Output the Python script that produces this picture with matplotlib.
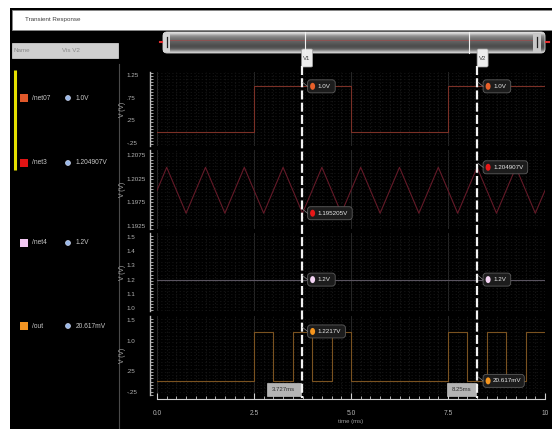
import matplotlib
matplotlib.use('Agg')
import matplotlib.pyplot as plt
from matplotlib.patches import Rectangle, FancyBboxPatch, Ellipse
from matplotlib.ticker import MultipleLocator, FixedLocator
import numpy as np

plt.rcParams['font.family'] = ['Liberation Sans', 'DejaVu Sans']
plt.rcParams['lines.scale_dashes'] = False

W, H = 552, 429

# ---------------- data ----------------
signal_names = ['/net07', '/net3', '/net4', '/out']
signal_vis_v2 = ['1.0V', '1.204907V', '1.2V', '20.617mV']

net07_t = [0.0, 2.5, 5.0, 7.5, 10.0]
net07_v = [0.0, 1.0, 0.0, 1.0, 1.0]

net3_t = [0.0, 0.25, 0.75, 1.25, 1.75, 2.25, 2.75, 3.25, 3.75, 4.25, 4.75,
          5.25, 5.75, 6.25, 6.75, 7.25, 7.75, 8.25, 8.75, 9.25, 9.75, 10.0]
net3_v = [1.2, 1.2049, 1.1952, 1.2049, 1.1952, 1.2049, 1.1952, 1.2049, 1.1952,
          1.2049, 1.1952, 1.2049, 1.1952, 1.2049, 1.1952, 1.2049, 1.1952,
          1.2049, 1.1952, 1.2049, 1.1952, 1.2]

net4_t = [0.0, 10.0]
net4_v = [1.2, 1.2]

out_t = [0.0, 2.5, 3.0, 3.5, 4.0, 4.5, 5.0, 7.5, 8.0, 8.5, 9.0, 9.5, 10.0]
out_v = [0.02, 1.22, 0.02, 1.22, 0.02, 1.22, 0.02, 1.22, 0.02, 1.22, 0.02, 1.22, 1.22]

cursor_t = [3.727, 8.25]
cursor_names = ['V1', 'V2']
cursor_readouts = ['3.727ms', '8.25ms']
v1_labels = ['1.0V', '1.195205V', '1.2V', '1.2217V']
v1_values = [1.0, 1.195205, 1.2, 1.2217]
v2_labels = ['1.0V', '1.204907V', '1.2V', '20.617mV']
v2_values = [1.0, 1.204907, 1.2, 0.020617]

x_ticks = [0.0, 2.5, 5.0, 7.5, 10.0]
x_ticklabels = ['0.0', '2.5', '5.0', '7.5', '10']
ytick_vals = [[1.25, 0.75, 0.25, -0.25],
              [1.2075, 1.2025, 1.1975, 1.1925],
              [1.5, 1.4, 1.3, 1.2, 1.1, 1.0],
              [1.5, 1.0, 0.25, -0.25]]
ytick_labels = [['1.25', '.75', '.25', '-.25'],
                ['1.2075', '1.2025', '1.1975', '1.1925'],
                ['1.5', '1.4', '1.3', '1.2', '1.1', '1.0'],
                ['1.5', '1.0', '.25', '-.25']]

# ---------------- styles ----------------
trace_colors = ['#7a3026', '#641a28', '#5a5460', '#7a5220']
icon_colors = ['#e0582a', '#e01414', '#f2c8f2', '#f29422']
dot_colors = ['#e8602a', '#e81818', '#f4d4f4', '#f5951e']
strip_px = [(72, 146), (150, 229), (233, 311), (316, 395)]
strip_ylim = [(-0.316, 1.316), (1.19187, 1.20856), (0.979, 1.528), (-0.323, 1.597)]
row_y = [98, 163, 243, 326]
PX0, PX1 = 157, 545


def rect(x0, y0, x1, y1):
    return [x0 / W, 1 - y1 / H, (x1 - x0) / W, (y1 - y0) / H]


fig = plt.figure(figsize=(W / 100, H / 100), dpi=100, facecolor='white')

# background layer
bg = fig.add_axes([0, 0, 1, 1], zorder=0)
bg.set_xlim(0, W)
bg.set_ylim(H, 0)
bg.axis('off')
bg.add_patch(Rectangle((10, 8), W - 10, H - 8, fc='black', ec='none'))
bg.add_patch(Rectangle((12, 10), W - 12, 20, fc='white', ec='#888888', lw=0.6))
bg.text(25, 20, 'Transient Response', fontsize=4.5, color='#404040', va='center')
# left panel header
bg.add_patch(Rectangle((12, 43), 106, 15, fc='#cfcfcf', ec='#e0e0e0', lw=0.5))
bg.text(14, 50.5, 'Name', fontsize=4.5, color='#8a8a8a', va='center')
bg.text(62, 50.5, 'Vis V2', fontsize=4.5, color='#8a8a8a', va='center')
bg.plot([118.5, 118.5], [64, H], color='#4a4a4a', lw=0.8)
bg.plot([14.5, 14.5], [70, 170], color='#e6e000', lw=2.2, solid_capstyle='butt')
for i in range(4):
    y = row_y[i]
    bg.add_patch(Rectangle((20, y - 4), 8, 8, fc=icon_colors[i], ec='none'))
    bg.text(32, y, signal_names[i], fontsize=4.8, color='#c8c8c8', va='center')
    bg.add_patch(Ellipse((68, y), 5, 5, fc='#9ab8e8', ec='#e0e8ff', lw=0.4))
    bg.text(76, y, signal_vis_v2[i], fontsize=4.8, color='#c8c8c8', va='center')

# scrollbar
grad = np.array([[0.9], [0.62], [0.5], [0.44], [0.38], [0.34], [0.3], [0.32], [0.45], [0.8]])
sb = FancyBboxPatch((163, 32), 382, 21, boxstyle='round,pad=0,rounding_size=4',
                    fc='none', ec='#d8d8d8', lw=0.6, zorder=3)
bg.add_patch(sb)
im = bg.imshow(grad, cmap='gray', vmin=0, vmax=1, extent=(163, 545, 53, 32),
               aspect='auto', interpolation='bicubic', zorder=2)
im.set_clip_path(sb)
bg.set_xlim(0, W)
bg.set_ylim(H, 0)
bg.plot([170, 533], [40, 40], color='#b04040', lw=0.6, alpha=0.6, zorder=4)
bg.add_patch(Rectangle((163, 33), 7, 19, fc='#d4d4d4', ec='none', zorder=4))
bg.add_patch(Rectangle((533, 33), 8, 19, fc='#c8c8c8', ec='none', zorder=4))
bg.plot([167, 167], [37, 47], color='#202020', lw=0.9, zorder=5)
bg.plot([537, 537], [37, 47], color='#202020', lw=0.9, zorder=5)
bg.plot([160, 162], [42, 42], color='#e03030', lw=1.5, zorder=5)
bg.plot([546, 549], [42, 42], color='#e03030', lw=1.5, zorder=5)

# ---------------- strips ----------------
series = [(net07_t, net07_v), (net3_t, net3_v), (net4_t, net4_v), (out_t, out_v)]
axes = []
for i in range(4):
    y0, y1 = strip_px[i]
    ax = fig.add_axes(rect(PX0, y0, PX1, y1), zorder=1)
    ax.set_facecolor('black')
    t, v = series[i]
    ax.plot(t, v, color=trace_colors[i], lw=0.8,
            drawstyle='steps-post' if i in (0, 3) else 'default')
    ax.set_xlim(0, 10)
    ax.set_ylim(*strip_ylim[i])
    for s in ['top', 'right', 'bottom']:
        ax.spines[s].set_visible(False)
    ax.spines['left'].set_position(('outward', 5))
    ax.spines['left'].set_color('#bdbdbd')
    ax.spines['left'].set_linewidth(1.0)
    ax.yaxis.set_major_locator(FixedLocator(ytick_vals[i]))
    ax.set_yticklabels(ytick_labels[i])
    span = strip_ylim[i][1] - strip_ylim[i][0]
    ax.yaxis.set_minor_locator(MultipleLocator(span / 24))
    ax.tick_params(axis='y', which='major', length=0, pad=17, labelsize=4.5, labelcolor='#b4b4b4')
    ax.tick_params(axis='y', which='minor', direction='in', length=2, width=0.6, color='#bdbdbd')
    for lab in ax.get_yticklabels():
        lab.set_ha('left')
    ax.xaxis.set_major_locator(FixedLocator(x_ticks))
    ax.xaxis.set_minor_locator(MultipleLocator(0.25))
    ax.grid(which='minor', axis='x', color='#1d1d1d', lw=0.5, ls=':')
    ax.grid(which='major', axis='x', color='#2e2e2e', lw=0.6)
    ax.yaxis.grid(True, which='minor', color='#191919', lw=0.5, ls=':')
    ax.set_axisbelow(True)
    ax.set_ylabel('V (V)', fontsize=4.8, color='#a8a8a8')
    ax.yaxis.set_label_coords(-0.08, 0.5)
    if i < 3:
        ax.tick_params(axis='x', which='both', length=0, labelbottom=False)
    else:
        ax.spines['bottom'].set_visible(True)
        ax.spines['bottom'].set_position(('outward', 3))
        ax.spines['bottom'].set_color('#d0d0d0')
        ax.set_xticklabels(x_ticklabels)
        ax.tick_params(axis='x', which='major', direction='in', length=4, width=0.8,
                       color='#d0d0d0', labelsize=4.8, labelcolor='#b4b4b4', pad=8)
        ax.tick_params(axis='x', which='minor', direction='in', length=2.5, width=0.6,
                       color='#d0d0d0')
        ax.set_xlabel('time (ms)', fontsize=4.3, color='#a0a0a0', labelpad=1)
    axes.append(ax)

# ---------------- overlay (cursors, readouts) ----------------
ov = fig.add_axes([0, 0, 1, 1], zorder=5)
ov.set_xlim(0, W)
ov.set_ylim(H, 0)
ov.axis('off')
ov.patch.set_alpha(0)


def to_px(ax, t, v):
    dx, dy = ax.transData.transform((t, v))
    return dx, H - dy


for ci in range(2):
    cx, _ = to_px(axes[0], cursor_t[ci], 0)
    # scrollbar mark
    sx = 170 + (533 - 170) * cursor_t[ci] / 10
    ov.plot([sx, sx], [32, 53], color='#f0f0f0', lw=0.8)
    # dashed cursor line
    ov.plot([cx, cx], [66, 398], color='#f2f2f2', lw=1.6, dashes=(6.5, 2.3))
    # V tag
    ov.add_patch(FancyBboxPatch((cx, 49), 11, 18, boxstyle='round,pad=0,rounding_size=1.5',
                                fc='#ececec', ec='#a0a0a0', lw=0.5))
    ov.text(cx + 5.5, 59, cursor_names[ci], fontsize=4.3, color='#404040', ha='center', va='center')
    # time readout at bottom
    tw = len(cursor_readouts[ci]) * 4.4 + 3
    ov.add_patch(Rectangle((cx - 1 - tw, 383), tw, 13, fc='#b4b4b4', ec='#d8d8d8', lw=0.4))
    ov.text(cx - 1 - tw / 2, 389.5, cursor_readouts[ci], fontsize=4.3, color='#303030',
            ha='center', va='center')
    labels = v1_labels if ci == 0 else v2_labels
    values = v1_values if ci == 0 else v2_values
    for si in range(4):
        _, py = to_px(axes[si], cursor_t[ci], values[si])
        bw = len(labels[si]) * 3.4 + 14
        bx = cx + 6
        ov.plot([cx + 1, bx], [py - 4, py], color='#8a8a8a', lw=0.5)
        ov.add_patch(FancyBboxPatch((bx, py - 6.5), bw, 13, boxstyle='round,pad=0,rounding_size=3',
                                    fc='#1c1c1c', ec='#5c5c5c', lw=0.6))
        ov.add_patch(Ellipse((bx + 5, py), 5, 7, fc=dot_colors[si], ec='none'))
        ov.text(bx + 10, py, labels[si], fontsize=4.5, color='#e8e8e8', va='center')

fig.savefig('out.png', dpi=100, facecolor=fig.get_facecolor())
